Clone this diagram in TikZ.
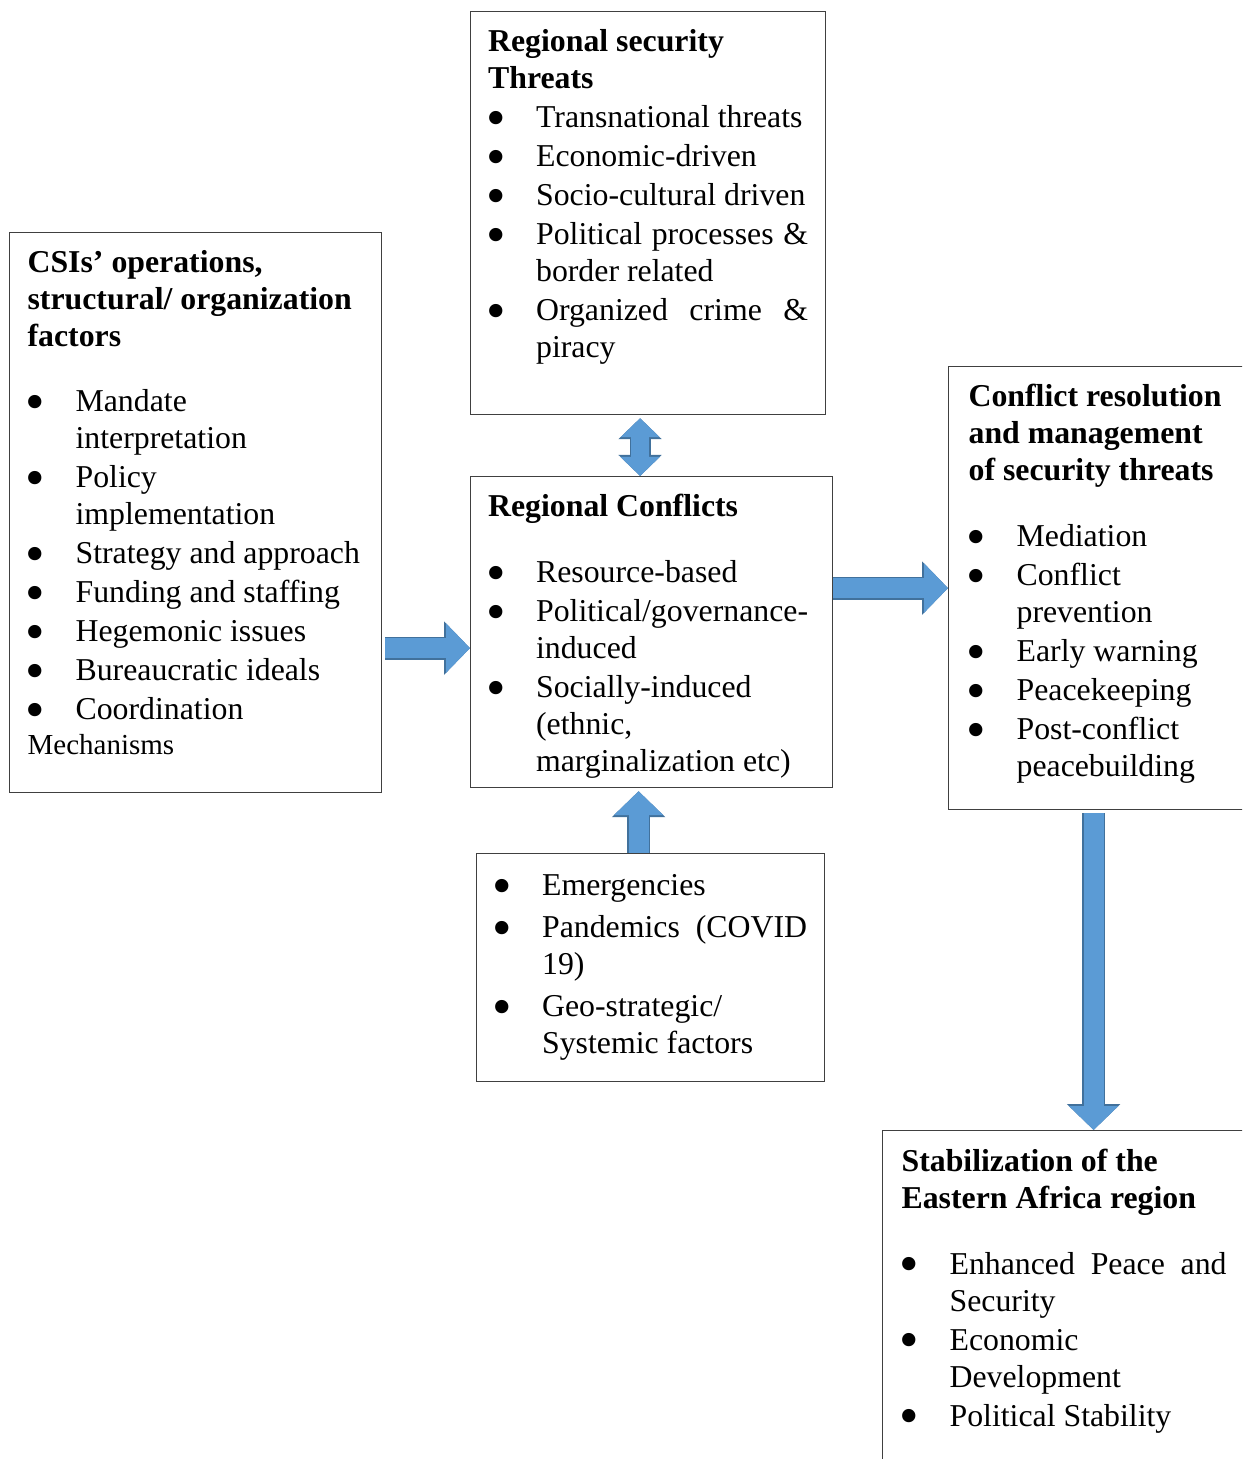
\documentclass[tikz,border=0pt]{standalone}
\usepackage{fontspec}
\setmainfont{Liberation Serif}
\usepackage{graphicx}
\usepackage{tikz}
\usetikzlibrary{arrows.meta, calc}
\definecolor{arrowfill}{HTML}{5B9BD5}
\definecolor{arrowedge}{HTML}{41719C}
\definecolor{boxline} {HTML}{404040}

% bullet item with hanging indent, heading, fixed-size box body
\newcommand{\bul}{\smash{\raisebox{-4.2pt}{\scalebox{1.75}{\textbullet}}}}
\newcommand{\itm}[1]{\par\hangindent=24pt\hangafter=1\noindent\makebox[24pt][l]{\hspace{-1pt}\bul}#1}
\newcommand{\head}[1]{{\bfseries #1\par}}
\newcommand{\boxbody}[3]{\begin{minipage}[t][#1][t]{#2}\setlength{\parskip}{1pt}#3\end{minipage}}

\begin{document}
\begin{tikzpicture}[
    x=0.5pt, y=-0.5pt,
    box/.style={draw=boxline, line width=0.6pt, anchor=north west,
                inner xsep=8.75pt, inner ysep=9pt,
                font=\fontsize{15.9pt}{18.5pt}\selectfont},
    arr/.style={draw=arrowfill, line width=10pt,
                -{Triangle[width=24pt, length=12pt]},
                preaction={draw=arrowedge, line width=11.5pt,
                           -{Triangle[width=26pt, length=13pt]}}},
    dblarr/.style={draw=arrowfill, line width=9pt,
                {Triangle[width=19pt, length=9.5pt]}-{Triangle[width=19pt, length=9.5pt]},
                preaction={draw=arrowedge, line width=10.5pt,
                           {Triangle[width=21pt, length=10.5pt]}-{Triangle[width=21pt, length=10.5pt]}}},
  ]
    \path[use as bounding box] (0,0) rectangle (1242,1459);
    \clip (0,0) rectangle (1242,1459);
    \fill[white] (0,0) rectangle (1242,1459);

    % Top: threats
    \node[box] (thr) at (470,11) {\boxbody{183.5pt}{160pt}{%
      \head{Regional security\\Threats}
      \itm{Transnational threats}
      \itm{Economic-driven}
      \itm{Socio-cultural driven}
      \itm{Political processes \&\linebreak border related}
      \itm{Organized crime \&\linebreak piracy}}};

    % Left: CSI factors
    \node[box, inner xsep=9pt] (csi) at (9,232) {\boxbody{262pt}{168pt}{%
      \head{CSIs’ operations,\\structural/ organization\\factors}
      \vspace{13pt}
      \itm{Mandate\\interpretation}
      \itm{Policy\\implementation}
      \itm{Strategy and approach}
      \itm{Funding and staffing}
      \itm{Hegemonic issues}
      \itm{Bureaucratic ideals}
      \itm{Coordination}
      \par{\fontsize{14.5pt}{16.5pt}\selectfont Mechanisms\par}}};

    % Centre: conflicts
    \node[box] (conf) at (470,476) {\boxbody{137.5pt}{163.5pt}{%
      \head{Regional Conflicts}
      \vspace{13.5pt}
      \itm{Resource-based}
      \itm{Political/governance-\\induced}
      \itm{Socially-induced\\(ethnic,\\marginalization etc)}}};

    % Below centre: other factors
    \node[box] (fac) at (476,853) {\boxbody{96pt}{156.5pt}{%
      \setlength{\parskip}{2.5pt}\vspace*{1.5pt}
      \itm{Emergencies}
      \itm{Pandemics (COVID\linebreak 19)}
      \itm{Geo-strategic/\\Systemic factors}}};

    % Right: resolution
    \node[box, inner xsep=10pt] (res) at (948,366) {\boxbody{203.5pt}{135pt}{%
      \head{Conflict resolution\\and management\\of security threats}
      \vspace{13.5pt}
      \itm{Mediation}
      \itm{Conflict\\prevention}
      \itm{Early warning}
      \itm{Peacekeeping}
      \itm{Post-conflict\\peacebuilding}}};

    % Bottom right: outcome
    \node[box, inner xsep=9.5pt] (stab) at (882,1130) {\boxbody{162pt}{162.5pt}{%
      \head{Stabilization of the\\Eastern Africa region}
      \vspace{13.5pt}
      \itm{Enhanced Peace and\linebreak Security}
      \itm{Economic\\Development}
      \itm{Political Stability}}};

    \draw[dblarr] ($(thr.south)+(-8,3)$) -- ($(thr.south |- conf.north)+(-8,0)$);
    \draw[arr] ($(csi.east |- conf.west)+(3,16)$) -- ($(conf.west)+(0,16)$);
    \draw[arr] (conf.east |- res.west) -- (res.west);
    \draw[arr] ($(fac.north)+(-12,0)$) -- ($(fac.north |- conf.south)+(-12,3)$);
    \draw[arr] ($(res.south)+(-10,3)$) -- ($(res.south |- stab.north)+(-10,0)$);
  \end{tikzpicture}
\end{document}
